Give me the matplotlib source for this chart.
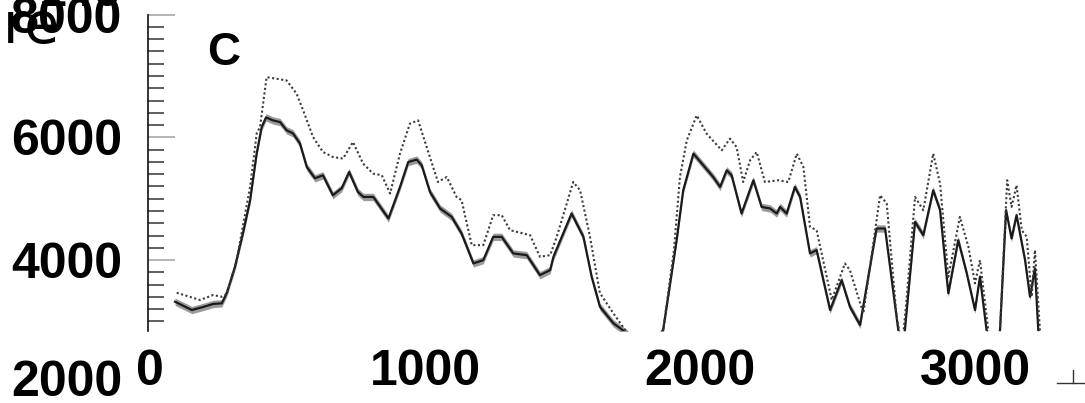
import matplotlib
matplotlib.use('Agg')
import matplotlib.pyplot as plt
from matplotlib.ticker import FixedLocator, MultipleLocator
from matplotlib.lines import Line2D
import numpy as np

W, H = 1085, 403

# ---- data ----
solid_x = [91, 152, 193, 229, 261, 279, 309, 338, 364, 388,
           406, 422, 447, 473, 497, 520, 545, 570, 600, 629,
           665, 697, 724, 756, 776, 812, 867, 909, 939, 970,
           988, 1018, 1055, 1097, 1133, 1176, 1212, 1248, 1279, 1321,
           1370, 1418, 1455, 1467, 1533, 1576, 1606, 1636, 1685, 1733,
           1800, 1866, 1915, 1939, 1976, 2012, 2048, 2073, 2097, 2115,
           2151, 2194, 2224, 2255, 2279, 2291, 2315, 2345, 2364, 2400,
           2424, 2473, 2515, 2545, 2582, 2642, 2673, 2721, 2733, 2745,
           2782, 2812, 2848, 2873, 2903, 2939, 2970, 3000, 3018, 3042,
           3065, 3091, 3113, 3133, 3151, 3182, 3200, 3218, 3230, 3240]
solid_y = [3322, 3187, 3236, 3285, 3296, 3463, 3891, 4439, 4976, 5740,
           6167, 6325, 6276, 6249, 6114, 6065, 5902, 5517, 5333, 5382,
           5057, 5171, 5436, 5111, 5029, 5029, 4678, 5192, 5598, 5637,
           5545, 5111, 4841, 4704, 4434, 3946, 4000, 4379, 4379, 4109,
           4081, 3756, 3837, 4054, 4759, 4379, 3728, 3241, 2971, 2813,
           2450, 2862, 4325, 5138, 5735, 5545, 5354, 5192, 5463, 5382,
           4759, 5301, 4867, 4841, 4759, 4867, 4759, 5192, 5029, 4109,
           4163, 3187, 3675, 3241, 2943, 4515, 4515, 2862, 2600, 2862,
           4623, 4407, 5138, 4813, 3459, 4325, 3784, 3187, 3728, 2862,
           2400, 2862, 4813, 4353, 4732, 4000, 3403, 3865, 2862, 2500]
band_half = 60

dotted_x = [97, 182, 229, 261, 279, 315, 364, 388, 400, 424,
            461, 497, 533, 557, 593, 629, 665, 702, 738, 775,
            811, 843, 873, 909, 945, 975, 1006, 1047, 1079, 1115,
            1133, 1170, 1212, 1248, 1279, 1309, 1382, 1418, 1455, 1479,
            1539, 1564, 1600, 1636, 1685, 1733, 1800, 1866, 1905, 1927, 1952,
            1988, 2024, 2079, 2109, 2133, 2157, 2182, 2206, 2236, 2285,
            2321, 2352, 2376, 2400, 2424, 2479, 2527, 2545, 2594, 2655,
            2679, 2715, 2735, 2751, 2782, 2812, 2848, 2873, 2903, 2945,
            2976, 3000, 3018, 3048, 3070, 3091, 3117, 3133, 3151, 3170,
            3188, 3206, 3218, 3236, 3245]
dotted_y = [3468, 3350, 3431, 3403, 3447, 4000, 5192, 6065, 6167, 6980,
            6954, 6927, 6711, 6439, 6005, 5761, 5680, 5654, 5924, 5572,
            5410, 5382, 5085, 5735, 6223, 6276, 5842, 5273, 5354, 5029,
            4976, 4244, 4244, 4732, 4732, 4488, 4407, 4054, 4081, 4379,
            5273, 5138, 4379, 3463, 3133, 2829, 2500, 2862, 4150, 5354, 5951,
            6358, 6060, 5789, 5979, 5842, 5273, 5626, 5761, 5273, 5301,
            5273, 5735, 5517, 4542, 4488, 3350, 3946, 3837, 3133, 5057,
            4922, 3078, 2600, 3350, 5029, 4813, 5735, 5247, 3728, 4704,
            4216, 3621, 4000, 2862, 2400, 2862, 5301, 4867, 5220, 4488,
            4379, 3403, 4163, 2862, 2500]

x_ticks = [0, 1000, 2000, 3000]
x_ticklabels = ['0', '1000', '2000', '3000']
y_ticks = [4000, 6000, 8000]
y_ticklabels = ['4000', '6000', '8000']
extra_y_label = 2000
panel_label = 'C'

# ---- figure ----
fig = plt.figure(figsize=(W / 100, H / 100), dpi=100)
left, right, top, bottom = 148, 1085, 14.6, 331
ax = fig.add_axes([left / W, 1 - bottom / H, (right - left) / W, (bottom - top) / H])

sx = np.array(solid_x, float)
sy = np.array(solid_y, float)
ax.fill_between(sx, sy - band_half, sy + band_half, color='#8a8a8a', lw=0, alpha=0.85, zorder=2)
ax.plot(sx, sy, color='#1a1a1a', lw=1.6, zorder=3)
ax.plot(dotted_x, dotted_y, color='#3a3a3a', lw=1.5, linestyle=(0, (1, 1.2)), zorder=3)

ax.set_xlim(-7.3, 3400)
ax.set_ylim(2845, 8000)

for s in ['top', 'right', 'bottom']:
    ax.spines[s].set_visible(False)
ax.spines['left'].set_linewidth(1.2)
ax.spines['left'].set_color('#111111')

bold = dict(family='Liberation Sans', weight='bold', size=36)

ax.yaxis.set_major_locator(FixedLocator(y_ticks))
ax.set_yticklabels(y_ticklabels, fontdict=bold)
ax.yaxis.set_minor_locator(MultipleLocator(200))
ax.tick_params(axis='y', which='major', direction='in', length=19.5, width=1.1,
               color='#a0a0a0', pad=18.7)
ax.tick_params(axis='y', which='minor', direction='in', length=11.5, width=1.1,
               color='#333333')

ax.xaxis.set_major_locator(FixedLocator(x_ticks))
ax.set_xticklabels(x_ticklabels, fontdict=bold)
ax.tick_params(axis='x', which='both', direction='in', length=0, pad=13.3)

# y label lying below the axis range
ax.text(-102, extra_y_label, str(extra_y_label), ha='right', va='center',
        clip_on=False, **bold)

# panel letter
fig.text(224 / W, 1 - 53 / H, panel_label, ha='center', va='center',
         family='Liberation Sans', weight='bold', size=33)

# stray overlapping texts at the top left
fig.text(122 / W, 1 - 6 / H, '140', ha='right', va='baseline', **bold)
fig.text(3 / W, 1 - 43 / H, 're', ha='left', va='baseline',
         family='DejaVu Sans', size=41)

# small stray axis fragment at bottom right
fig.add_artist(Line2D([1057 / W, 1085 / W], [1 - 383 / H, 1 - 383 / H],
                      color='#333333', lw=1.0))
fig.add_artist(Line2D([1073 / W, 1073 / W], [1 - 370 / H, 1 - 383 / H],
                      color='#333333', lw=1.0))

fig.savefig('out.png', dpi=100)
